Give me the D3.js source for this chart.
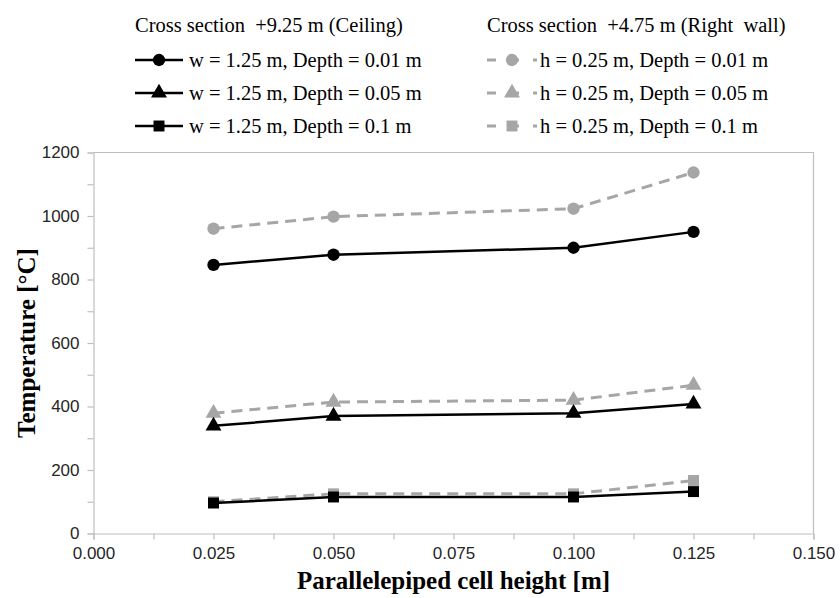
<!DOCTYPE html>
<html>
<head>
<meta charset="utf-8">
<script src="https://cdn.jsdelivr.net/npm/d3@7"></script>
<style>
  html, body { margin: 0; padding: 0; background: #fff; }
  svg { display: block; }
  text { white-space: pre; }
</style>
</head>
<body>
<svg id="chart" width="840" height="598"></svg>
<script>
// Cell heights (x) shared by every series
const cellHeights = [0.025, 0.05, 0.1, 0.125];

// Cross section +9.25 m (Ceiling), w = 1.25 m
const ceilingDepth001 = [846, 878, 900, 950];
const ceilingDepth005 = [339, 370, 379, 408];
const ceilingDepth01  = [96, 115, 115, 132];

// Cross section +4.75 m (Right wall), h = 0.25 m
const wallDepth001 = [960, 998, 1023, 1137];
const wallDepth005 = [379, 414, 420, 467];
const wallDepth01  = [100, 125, 125, 167];

const legendTitles = ["Cross section  +9.25 m (Ceiling)", "Cross section  +4.75 m (Right  wall)"];
const ceilingLabels = ["w = 1.25 m, Depth = 0.01 m", "w = 1.25 m, Depth = 0.05 m", "w = 1.25 m, Depth = 0.1 m"];
const wallLabels = ["h = 0.25 m, Depth = 0.01 m", "h = 0.25 m, Depth = 0.05 m", "h = 0.25 m, Depth = 0.1 m"];

const xTicks = [0, 0.025, 0.05, 0.075, 0.1, 0.125, 0.15];
const yTicks = [0, 200, 400, 600, 800, 1000, 1200];

const xTitle = "Parallelepiped cell height [m]";
const yTitle = "Temperature [°C]";

const svg = d3.select("#chart");
const plot = { left: 93.5, right: 813.5, top: 152.5, bottom: 533.5 };

const x = d3.scaleLinear().domain([0, 0.15]).range([plot.left, plot.right]);
const y = d3.scaleLinear().domain([0, 1200]).range([plot.bottom, plot.top]);

const axisColor = "#bfbfbf";
const black = "#000";
const grey = "#a6a6a6";
const serif = "'Liberation Serif', 'Times New Roman', serif";
const sans = "'Liberation Sans', Arial, sans-serif";

// Plot-area frame (top and right edges)
svg.append("path")
  .attr("d", `M${plot.left},${plot.top}H${plot.right}V${plot.bottom}`)
  .attr("fill", "none").attr("stroke", axisColor).attr("stroke-width", 1.2);

// Y axis with minor ticks
const yMinor = d3.range(0, 1201, 100);
const yAxis = svg.append("g").attr("transform", `translate(${plot.left},0)`)
  .call(d3.axisLeft(y).tickValues(yMinor).tickSize(6).tickFormat(d => yTicks.includes(d) ? d : ""));
yAxis.select(".domain").attr("stroke", axisColor).attr("stroke-width", 1.2);
yAxis.selectAll(".tick line").attr("stroke", axisColor).attr("stroke-width", 1.2);
yAxis.selectAll(".tick text")
  .attr("x", -14).attr("font-family", sans).attr("font-size", 17).attr("fill", "#262626");

// X axis with minor ticks
const xMinor = d3.range(0, 13).map(i => i * 0.0125);
const xAxis = svg.append("g").attr("transform", `translate(0,${plot.bottom})`)
  .call(d3.axisBottom(x).tickValues(xMinor).tickSize(6)
    .tickFormat(d => xTicks.some(t => Math.abs(t - d) < 1e-9) ? d3.format(".3f")(d) : ""));
xAxis.select(".domain").attr("stroke", axisColor).attr("stroke-width", 1.2);
xAxis.selectAll(".tick line").attr("stroke", axisColor).attr("stroke-width", 1.2);
xAxis.selectAll(".tick text")
  .attr("y", 13).attr("font-family", sans).attr("font-size", 17).attr("fill", "#262626");

// Axis titles
svg.append("text")
  .attr("transform", `translate(35,${(plot.top + plot.bottom) / 2}) rotate(-90)`)
  .attr("text-anchor", "middle")
  .attr("font-family", serif).attr("font-weight", "bold").attr("font-size", 25)
  .text(yTitle);
svg.append("text")
  .attr("x", (plot.left + plot.right) / 2).attr("y", 589)
  .attr("text-anchor", "middle")
  .attr("font-family", serif).attr("font-weight", "bold").attr("font-size", 25)
  .text(xTitle);

// Marker shapes
const markerPath = {
  circle: d3.symbol().type(d3.symbolCircle).size(120)(),
  triangle: d3.symbol().type(d3.symbolTriangle).size(110)(),
  square: d3.symbol().type(d3.symbolSquare).size(120)()
};

const series = [
  { values: wallDepth001, color: grey, dashed: true, shape: "circle" },
  { values: wallDepth005, color: grey, dashed: true, shape: "triangle" },
  { values: wallDepth01, color: grey, dashed: true, shape: "square" },
  { values: ceilingDepth001, color: black, dashed: false, shape: "circle" },
  { values: ceilingDepth005, color: black, dashed: false, shape: "triangle" },
  { values: ceilingDepth01, color: black, dashed: false, shape: "square" }
];

const line = d3.line().x(d => x(d[0])).y(d => y(d[1]));

series.forEach(s => {
  const pts = cellHeights.map((h, i) => [h, s.values[i]]);
  const g = svg.append("g");
  g.append("path")
    .attr("d", line(pts))
    .attr("fill", "none")
    .attr("stroke", s.color)
    .attr("stroke-width", s.dashed ? 3 : 2.5)
    .attr("stroke-dasharray", s.dashed ? "11,7" : null);
  g.selectAll("path.mk").data(pts).join("path")
    .attr("class", "mk")
    .attr("d", markerPath[s.shape])
    .attr("transform", d => `translate(${x(d[0])},${y(d[1])})`)
    .attr("fill", s.color);
});

// Legend
const legend = svg.append("g").attr("font-family", serif).attr("font-size", 20.5).attr("fill", black);
const columns = [
  { x0: 135, title: legendTitles[0], labels: ceilingLabels, color: black, dashed: false, lineEnd: 183, textX: 189 },
  { x0: 487, title: legendTitles[1], labels: wallLabels, color: grey, dashed: true, lineEnd: 537, textX: 540 }
];
const rowY = [60, 93, 126];
const shapes = ["circle", "triangle", "square"];

columns.forEach(c => {
  legend.append("text").attr("x", c.x0).attr("y", 32).text(c.title);
  c.labels.forEach((lab, i) => {
    const ry = rowY[i];
    legend.append("line")
      .attr("x1", c.x0).attr("x2", c.lineEnd).attr("y1", ry).attr("y2", ry)
      .attr("stroke", c.color).attr("stroke-width", c.dashed ? 3 : 2.5)
      .attr("stroke-dasharray", c.dashed ? "9,14" : null);
    legend.append("path")
      .attr("d", markerPath[shapes[i]])
      .attr("transform", `translate(${(c.x0 + c.lineEnd) / 2},${ry})`)
      .attr("fill", c.color);
    legend.append("text").attr("x", c.textX).attr("y", ry + 7).text(lab);
  });
});
</script>
</body>
</html>
